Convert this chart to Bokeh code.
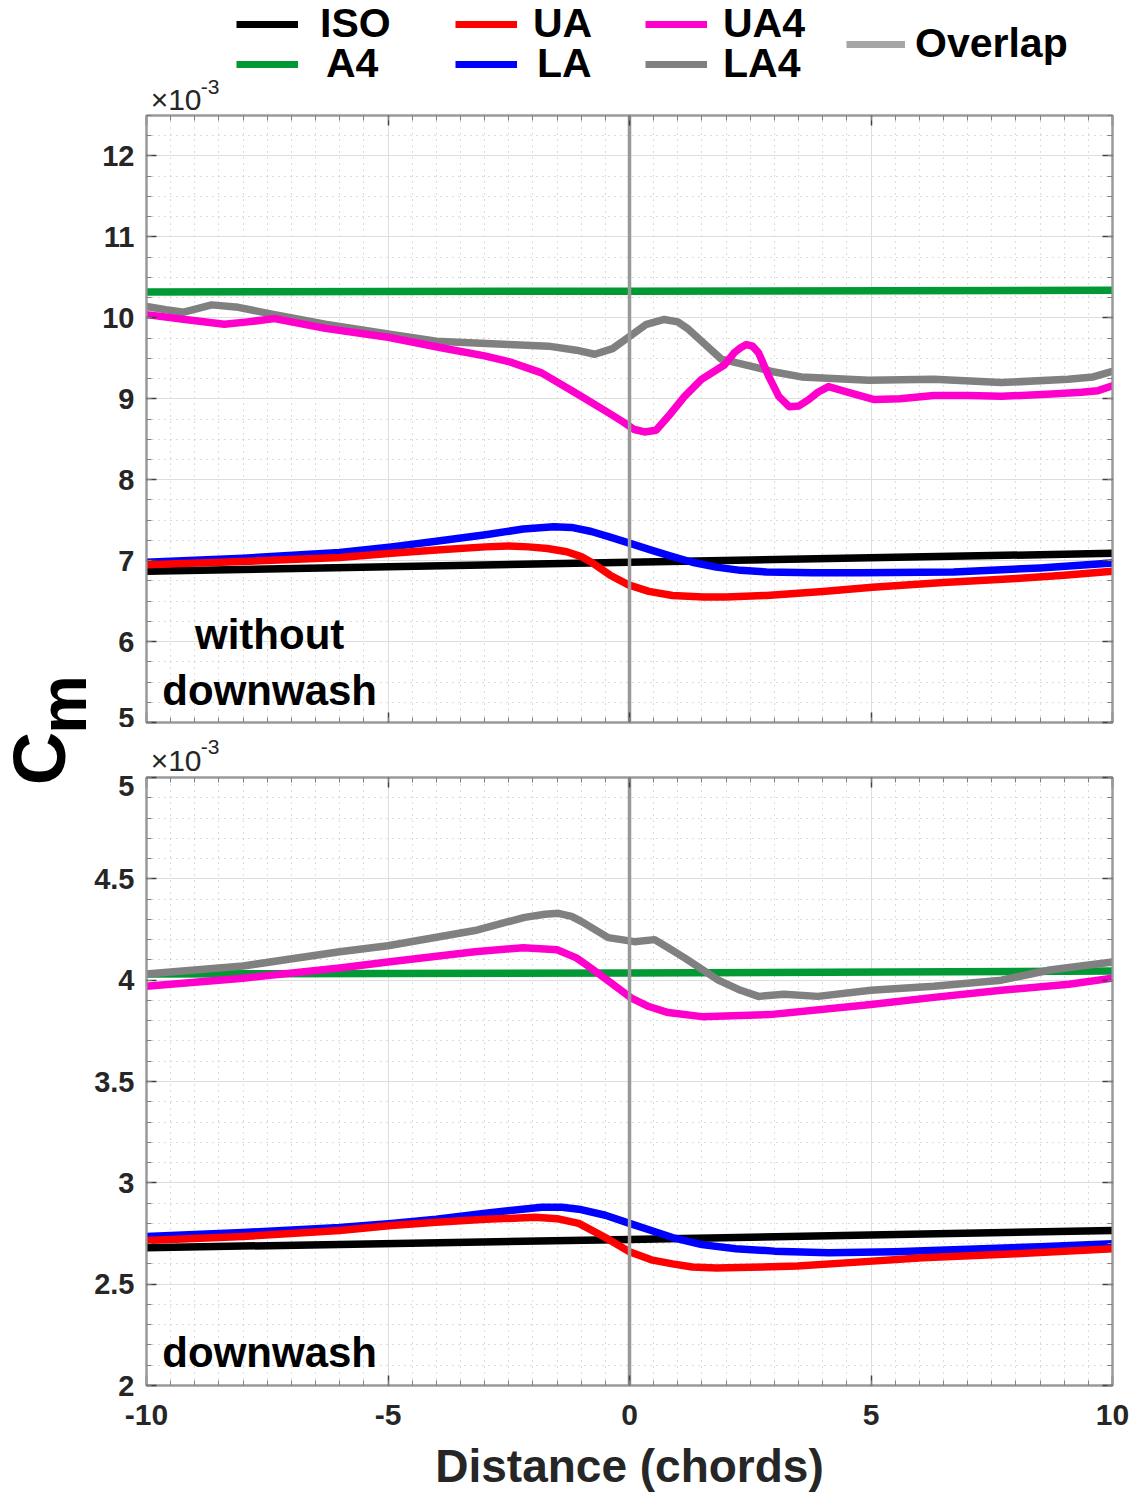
import math
from bokeh.plotting import figure
from bokeh.models import (Range1d, FixedTicker, LinearAxis, Legend, LegendItem)
from bokeh.layouts import row, column
from bokeh.embed import file_html
from bokeh.resources import INLINE
from bokeh.core.properties import value

FONT = "Liberation Sans"

# ---------------- data ----------------
x_ticks = [-10, -5, 0, 5, 10]
x_tick_labels = ["-10", "-5", "0", "5", "10"]
x_minor = [v / 2 for v in range(-20, 21)]

top_y_ticks = [5, 6, 7, 8, 9, 10, 11, 12]
top_y_tick_labels = ["5", "6", "7", "8", "9", "10", "11", "12"]
top_y_minor = [5 + v / 4 for v in range(0, 31)]
bot_y_ticks = [2, 2.5, 3, 3.5, 4, 4.5, 5]
bot_y_tick_labels = ["2", "2.5", "3", "3.5", "4", "4.5", "5"]
bot_y_minor = [2 + v / 10 for v in range(0, 31)]

overlap_x = [0, 0]

# --- top panel: without downwash (x1e-3) ---
t_iso_x = [-10, 0, 10]
t_iso_y = [6.87, 6.98, 7.09]
t_a4_x = [-10, 0, 10]
t_a4_y = [10.32, 10.33, 10.34]
t_ua_x = [-10, -8, -6, -4.93, -4, -2.98, -2.5, -2.09, -1.7, -1.3, -1.0, -0.79, -0.4, -0.02, 0.4, 0.89, 1.53, 2.0, 2.84, 4.0, 5.03, 6.5, 8.01, 9.0, 10]
t_ua_y = [6.95, 6.99, 7.04, 7.09, 7.13, 7.17, 7.18, 7.17, 7.15, 7.11, 7.05, 6.98, 6.82, 6.70, 6.62, 6.57, 6.55, 6.55, 6.57, 6.62, 6.67, 6.73, 6.78, 6.82, 6.87]
t_la_x = [-10, -8, -6, -4.93, -4, -2.98, -2.2, -1.57, -1.2, -0.79, -0.4, -0.02, 0.45, 0.89, 1.3, 1.8, 2.3, 2.84, 3.8, 4.78, 6.71, 8.5, 10]
t_la_y = [6.98, 7.03, 7.10, 7.17, 7.24, 7.32, 7.39, 7.42, 7.41, 7.36, 7.29, 7.22, 7.13, 7.05, 6.98, 6.92, 6.88, 6.86, 6.85, 6.85, 6.86, 6.91, 6.97]
t_ua4_x = [-10, -9.2, -8.39, -7.9, -7.35, -6.3, -5.0, -3.9, -3.0, -2.5, -1.82, -1.14, -0.5, -0.15, 0.1, 0.31, 0.55, 0.8, 1.14, 1.49, 1.97, 2.17, 2.3, 2.42, 2.55, 2.67, 2.88, 3.09, 3.31, 3.5, 3.71, 3.9, 4.12, 4.53, 5.07, 5.6, 6.3, 7.0, 7.7, 8.74, 9.36, 9.7, 10]
t_ua4_y = [10.04, 9.98, 9.92, 9.95, 9.99, 9.87, 9.76, 9.63, 9.53, 9.46, 9.32, 9.08, 8.85, 8.72, 8.62, 8.59, 8.61, 8.78, 9.03, 9.24, 9.42, 9.57, 9.63, 9.67, 9.65, 9.57, 9.28, 9.03, 8.90, 8.91, 8.99, 9.08, 9.15, 9.08, 8.99, 9.00, 9.04, 9.04, 9.03, 9.06, 9.08, 9.10, 9.16]
t_la4_x = [-10, -9.6, -9.23, -8.65, -8.1, -7.35, -6.3, -5.0, -4.0, -2.5, -1.68, -1.1, -0.72, -0.35, 0.0, 0.35, 0.72, 1.0, 1.22, 1.55, 1.9, 2.53, 3.0, 3.56, 4.95, 6.3, 7.7, 9.08, 9.6, 10]
t_la4_y = [10.14, 10.10, 10.07, 10.16, 10.13, 10.04, 9.92, 9.80, 9.71, 9.67, 9.65, 9.60, 9.55, 9.62, 9.77, 9.92, 9.98, 9.95, 9.86, 9.68, 9.49, 9.40, 9.33, 9.27, 9.23, 9.24, 9.20, 9.24, 9.27, 9.34]

# --- bottom panel: downwash (x1e-3) ---
b_iso_x = [-10, 0, 10]
b_iso_y = [2.68, 2.72, 2.765]
b_a4_x = [-10, 0, 10]
b_a4_y = [4.03, 4.035, 4.045]
b_ua_x = [-10, -8, -6, -4.93, -4, -2.98, -1.95, -1.5, -1.05, -0.5, 0, 0.45, 0.89, 1.3, 1.8, 2.5, 3.48, 4.8, 6.07, 8.0, 10]
b_ua_y = [2.715, 2.735, 2.765, 2.79, 2.805, 2.82, 2.83, 2.823, 2.80, 2.73, 2.66, 2.62, 2.60, 2.585, 2.58, 2.583, 2.59, 2.61, 2.63, 2.65, 2.675]
b_la_x = [-10, -8, -6, -4.93, -4, -2.98, -1.82, -1.4, -1.05, -0.5, 0, 0.45, 0.89, 1.5, 2.2, 3.0, 4.12, 5.5, 6.71, 8.5, 10]
b_la_y = [2.735, 2.755, 2.78, 2.80, 2.82, 2.85, 2.88, 2.88, 2.87, 2.84, 2.80, 2.765, 2.73, 2.695, 2.675, 2.663, 2.655, 2.66, 2.67, 2.685, 2.70]
b_ua4_x = [-10, -8, -6, -5, -3.2, -2.2, -1.5, -1.1, -0.8, -0.4, 0.05, 0.4, 0.8, 1.5, 2.9, 5.0, 6.3, 7.7, 9.1, 10]
b_ua4_y = [3.97, 4.01, 4.06, 4.09, 4.14, 4.16, 4.15, 4.11, 4.06, 3.99, 3.91, 3.87, 3.84, 3.82, 3.83, 3.88, 3.915, 3.95, 3.98, 4.01]
b_la4_x = [-10, -8, -6, -5, -3.2, -2.17, -1.75, -1.47, -1.2, -1.0, -0.44, 0.1, 0.52, 0.8, 1.14, 1.84, 2.3, 2.67, 3.2, 3.9, 5.0, 6.3, 7.7, 8.7, 10]
b_la4_y = [4.03, 4.07, 4.14, 4.17, 4.245, 4.31, 4.325, 4.33, 4.315, 4.29, 4.21, 4.19, 4.20, 4.16, 4.11, 4.00, 3.95, 3.92, 3.93, 3.92, 3.95, 3.97, 4.00, 4.05, 4.09]

series_names = ["ISO", "A4", "UA", "LA", "UA4", "LA4", "Overlap"]
series_colors = {"ISO": "#000000", "A4": "#009933", "UA": "#ff0000", "LA": "#0000ff",
                 "UA4": "#ff00cc", "LA4": "#808080", "Overlap": "#a6a6a6"}

TOP_RANGE = (5, 12.5)
BOT_RANGE = (2, 5)

LW = 7.5
AXIS_COLOR = "#9a9a9a"
TEXT_COLOR = "#262626"

WL = 90           # width of the y-label column
BL = 56           # left border of the panels
BR = 20           # right border of the panels
FW = 966          # frame width
RW = BL + FW + BR  # width of the right column


def blank_fig(w, h, xr, yr, **kw):
    f = figure(output_backend="svg", toolbar_location=None,
               frame_width=w, frame_height=h,
               x_range=Range1d(*xr), y_range=Range1d(*yr),
               min_border=0, **kw)
    f.axis.visible = False
    f.grid.visible = False
    f.outline_line_color = None
    return f


def make_fig(yr, yticks, ylabels, yminor, frame_h, b_top, b_bottom, show_x):
    p = figure(output_backend="svg", toolbar_location=None,
               frame_width=FW, frame_height=frame_h,
               x_range=Range1d(-10, 10), y_range=Range1d(*yr),
               min_border_left=BL, min_border_right=BR,
               min_border_top=b_top, min_border_bottom=b_bottom,
               background_fill_color="white", border_fill_color="white")
    p.outline_line_color = AXIS_COLOR
    p.outline_line_width = 2
    xt = FixedTicker(ticks=x_ticks, minor_ticks=x_minor)
    yt = FixedTicker(ticks=yticks, minor_ticks=yminor)
    p.add_layout(LinearAxis(), "right")
    p.add_layout(LinearAxis(), "above")
    for ax in p.xaxis:
        ax.ticker = xt
    for ax in p.yaxis:
        ax.ticker = yt
    for ax in list(p.xaxis) + list(p.yaxis):
        ax.axis_line_color = AXIS_COLOR
        ax.axis_line_width = 2
        ax.major_tick_in = 10
        ax.major_tick_out = 0
        ax.minor_tick_in = 5
        ax.minor_tick_out = 0
        ax.major_tick_line_color = "#404040"
        ax.major_tick_line_width = 1.5
        ax.minor_tick_line_color = "#808080"
        ax.major_label_text_font = FONT
        ax.major_label_text_font_style = "bold"
        ax.major_label_text_color = TEXT_COLOR
    for ax in (p.right[0], p.above[0]):
        ax.major_label_text_font_size = "0px"
        ax.major_label_standoff = 0
    yl = p.left[0]
    yl.major_label_text_font_size = "29px"
    yl.major_label_standoff = 12
    yl.major_label_overrides = {float(t): l for t, l in zip(yticks, ylabels)}
    xb = p.below[0]
    xb.major_label_overrides = {float(t): l for t, l in zip(x_ticks, x_tick_labels)}
    if show_x:
        xb.major_label_text_font_size = "30px"
        xb.major_label_standoff = 19
        xb.axis_label = "Distance (chords)"
        xb.axis_label_text_font = FONT
        xb.axis_label_text_font_style = "bold"
        xb.axis_label_text_font_size = "46px"
        xb.axis_label_text_color = TEXT_COLOR
        xb.axis_label_standoff = 12
    else:
        xb.major_label_text_font_size = "0px"
        xb.major_label_standoff = 0
    for g in (p.xgrid[0], p.ygrid[0]):
        g.grid_line_color = "#dedede"
        g.grid_line_width = 1
        g.minor_grid_line_color = "#b8b8b8"
        g.minor_grid_line_dash = "1 5"
        g.minor_grid_line_width = 1
    p.xgrid[0].ticker = xt
    p.ygrid[0].ticker = yt
    return p


top = make_fig(TOP_RANGE, top_y_ticks, top_y_tick_labels, top_y_minor, 607, 3, 5, False)
bot = make_fig(BOT_RANGE, bot_y_ticks, bot_y_tick_labels, bot_y_minor, 608, 2, 100, True)

for p, data, yr in ((top, [(t_iso_x, t_iso_y), (t_a4_x, t_a4_y), (t_ua_x, t_ua_y), (t_la_x, t_la_y),
                           (t_ua4_x, t_ua4_y), (t_la4_x, t_la4_y)], TOP_RANGE),
                    (bot, [(b_iso_x, b_iso_y), (b_a4_x, b_a4_y), (b_ua_x, b_ua_y), (b_la_x, b_la_y),
                           (b_ua4_x, b_ua4_y), (b_la4_x, b_la4_y)], BOT_RANGE)):
    for i in [1, 0, 3, 2, 5, 4]:
        name = series_names[i]
        xs, ys = data[i]
        p.line(xs, ys, line_color=series_colors[name], line_width=LW,
               line_join="round", line_cap="round")
    p.line(overlap_x, [yr[0], yr[1]], line_color="#999999", line_width=3.5)

# panel annotations
top.text(x=[-7.45], y=[5.74], text=["without\ndownwash"], text_font=value(FONT),
         text_font_style="bold", text_font_size="42px", text_align="center",
         text_baseline="middle", text_line_height=1.2, text_color="#000000")
bot.text(x=[-7.45], y=[2.163], text=["downwash"], text_font=value(FONT),
         text_font_style="bold", text_font_size="42px", text_align="center",
         text_baseline="middle", text_color="#000000")

# ---------------- legend strip (with the upper x10^-3) ----------------
LEG_H = 112
leg = blank_fig(RW, LEG_H, (-10, 10), (0, LEG_H))
legend_layout = {
    "ISO": (146, 65, 62, 22), "UA": (365, 65, 62, 16), "UA4": (555, 65, 62, 16),
    "A4": (146, 25, 62, 28), "LA": (365, 25, 62, 20), "LA4": (555, 25, 62, 16),
    "Overlap": (756, 45, 59, 10),
}
nan = float("nan")
for name in series_names:
    lr = leg.line([nan], [nan], line_color=series_colors[name], line_width=7)
    vx, vy, gw, so = legend_layout[name]
    lg = Legend(items=[LegendItem(label=name, renderers=[lr])],
                location=(vx, vy), orientation="vertical",
                glyph_width=gw, glyph_height=10, label_standoff=so,
                padding=0, margin=0, spacing=0,
                border_line_alpha=0, background_fill_alpha=0,
                label_text_font=FONT, label_text_font_style="bold",
                label_text_font_size="41px", label_text_color="#000000")
    leg.add_layout(lg, "center")
leg.text(x=[-9.92], y=[13], text=["×10"], text_font=value(FONT), text_font_size="30px",
         text_color=TEXT_COLOR, text_baseline="middle", text_align="left")
leg.text(x=[-8.96], y=[26], text=["-3"], text_font=value(FONT), text_font_size="21px",
         text_color=TEXT_COLOR, text_baseline="middle", text_align="left")

# ---------------- gap strip (with the lower x10^-3) ----------------
GAP_H = 48
gap = blank_fig(RW, GAP_H, (-10, 10), (0, GAP_H))
gap.text(x=[-9.92], y=[15], text=["×10"], text_font=value(FONT), text_font_size="30px",
         text_color=TEXT_COLOR, text_baseline="middle", text_align="left")
gap.text(x=[-8.96], y=[29], text=["-3"], text_font=value(FONT), text_font_size="21px",
         text_color=TEXT_COLOR, text_baseline="middle", text_align="left")

# ---------------- y label column ----------------
TOT_H = LEG_H + 3 + 607 + 5 + GAP_H + 2 + 608 + 100
ylab = blank_fig(WL, TOT_H, (0, WL), (0, TOT_H))
ylab.text(x=[38.5], y=[TOT_H - 758], text=["C"], angle=math.pi / 2, text_font=value(FONT),
          text_font_style="bold", text_font_size="74px", text_align="center",
          text_baseline="middle", text_color="#000000")
ylab.text(x=[62], y=[TOT_H - 704], text=["m"], angle=math.pi / 2, text_font=value(FONT),
          text_font_style="bold", text_font_size="66px", text_align="center",
          text_baseline="middle", text_color="#000000")

layout = row(ylab, column(leg, top, gap, bot, spacing=0), spacing=0)
open("out.html", "w").write(file_html(layout, INLINE))
